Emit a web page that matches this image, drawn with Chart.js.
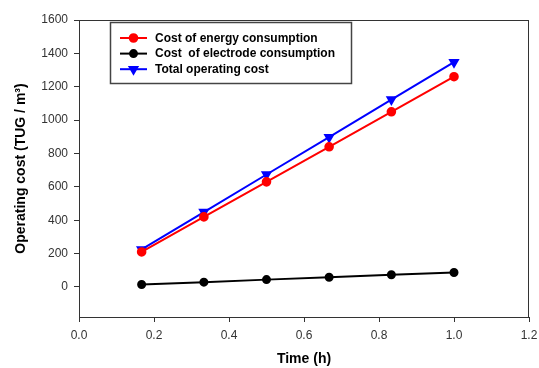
<!DOCTYPE html>
<html>
<head>
<meta charset="utf-8">
<script src="https://cdn.jsdelivr.net/npm/chart.js@4/dist/chart.umd.min.js"></script>
<style>
  html, body { margin: 0; padding: 0; background: #fff; }
  #wrap { width: 539px; height: 368px; }
</style>
</head>
<body>
<div id="wrap"><canvas id="costChart" width="539" height="368"></canvas></div>
<script>
// data
var times = [0.167, 0.333, 0.5, 0.667, 0.833, 1.0];
var energyCost = [210, 420, 630, 840, 1050, 1260];
var electrodeCost = [15, 29, 44, 58, 73, 87];
var totalCost = [225, 449, 674, 898, 1123, 1347];
var xTicks = [0, 0.2, 0.4, 0.6, 0.8, 1.0, 1.2];
var yTicks = [0, 200, 400, 600, 800, 1000, 1200, 1400, 1600];

var FONT = '"Liberation Sans", Arial, sans-serif';

function pts(ys) {
    return times.map(function (t, i) { return {x: t, y: ys[i]}; });
}

// frame around the plot + legend box inside the plot
var framePlugin = {
    id: 'frame',
    afterDraw: function (chart) {
        var ctx = chart.ctx, a = chart.chartArea;
        ctx.save();
        ctx.strokeStyle = '#333';
        ctx.lineWidth = 1;
        ctx.strokeRect(a.left + 0.5, a.top + 0.5, a.right - a.left - 1, a.bottom - a.top);

        // legend
        ctx.lineWidth = 1.5;
        ctx.strokeStyle = '#444';
        ctx.strokeRect(110.5, 22.5, 241, 61);
        ctx.font = 'bold 12px ' + FONT;
        ctx.textBaseline = 'middle';
        ctx.fillStyle = '#000';
        chart.data.datasets.forEach(function (ds, i) {
            var y = 38 + i * 15.6;
            ctx.strokeStyle = ds.borderColor;
            ctx.lineWidth = 2;
            ctx.beginPath();
            ctx.moveTo(120, y);
            ctx.lineTo(147, y);
            ctx.stroke();
            ctx.fillStyle = ds.pointBackgroundColor;
            ctx.strokeStyle = ds.borderColor;
            Chart.helpers.drawPoint(ctx, {
                pointStyle: ds.pointStyle,
                rotation: ds.pointRotation || 0,
                radius: ds.pointRadius,
                borderWidth: 1
            }, 133.5, y);
            ctx.fillStyle = '#000';
            ctx.fillText(ds.label, 155, y + 0.5);
        });
        ctx.restore();
    }
};

var ctx = document.getElementById('costChart').getContext('2d');
new Chart(ctx, {
    type: 'line',
    data: {
        datasets: [
            {
                label: 'Cost of energy consumption',
                data: pts(energyCost),
                borderColor: '#ff0000',
                backgroundColor: '#ff0000',
                pointBackgroundColor: '#ff0000',
                pointStyle: 'circle',
                pointRadius: 3.8,
                borderWidth: 2
            },
            {
                label: 'Cost  of electrode consumption',
                data: pts(electrodeCost),
                borderColor: '#000000',
                backgroundColor: '#000000',
                pointBackgroundColor: '#000000',
                pointStyle: 'circle',
                pointRadius: 3.5,
                borderWidth: 2
            },
            {
                label: 'Total operating cost',
                data: pts(totalCost),
                borderColor: '#0000ff',
                backgroundColor: '#0000ff',
                pointBackgroundColor: '#0000ff',
                pointStyle: 'triangle',
                pointRotation: 180,
                pointRadius: 4.5,
                borderWidth: 2
            }
        ]
    },
    options: {
        responsive: false,
        animation: false,
        layout: {padding: {left: 0, right: 10, top: 20, bottom: 0}},
        plugins: {legend: {display: false}, tooltip: {enabled: false}},
        scales: {
            x: {
                type: 'linear',
                min: 0,
                max: 1.2,
                afterFit: function (s) {
                    s.height = 51;
                    s.paddingLeft = 0;
                    s.paddingRight = 0;
                },
                afterBuildTicks: function (s) {
                    s.ticks = xTicks.map(function (v) { return {value: v}; });
                },
                grid: {drawOnChartArea: false, drawTicks: true, tickLength: 5, color: '#333', tickColor: '#333'},
                border: {display: true, color: '#333'},
                ticks: {
                    padding: 6,
                    color: '#333',
                    font: {family: FONT, size: 12},
                    maxRotation: 0,
                    callback: function (v) { return Number(v).toFixed(1); }
                },
                title: {
                    display: true,
                    text: 'Time (h)',
                    color: '#000',
                    font: {family: FONT, size: 14, weight: 'bold'},
                    padding: {top: 0, bottom: 0}
                }
            },
            y: {
                min: -180,
                max: 1600,
                afterFit: function (s) { s.width = 79; },
                afterBuildTicks: function (s) {
                    s.ticks = yTicks.map(function (v) { return {value: v}; });
                },
                grid: {drawOnChartArea: false, drawTicks: true, tickLength: 5, color: '#333', tickColor: '#333'},
                border: {display: true, color: '#333'},
                ticks: {
                    padding: 6,
                    color: '#333',
                    font: {family: FONT, size: 12},
                    callback: function (v) { return String(v); }
                },
                title: {
                    display: true,
                    text: 'Operating cost (TUG / m³)',
                    color: '#000',
                    font: {family: FONT, size: 14, weight: 'bold'},
                    padding: {top: 13, bottom: 0}
                }
            }
        }
    },
    plugins: [framePlugin]
});
</script>
</body>
</html>
